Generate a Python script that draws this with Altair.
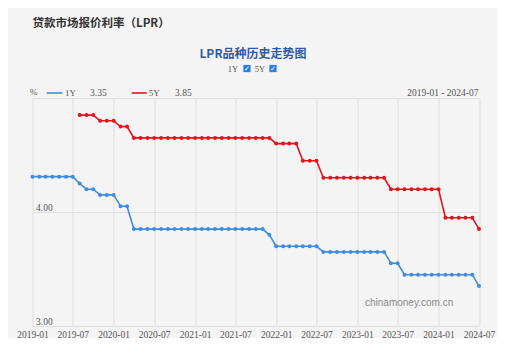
import altair as alt
import pandas as pd

# ---- data ----
months = pd.date_range("2019-01-01", "2024-07-01", freq="MS")

lpr_1y = [4.31, 4.31, 4.31, 4.31, 4.31, 4.31, 4.31,          # 2019-01..07
          4.25, 4.20, 4.20, 4.15, 4.15,                      # 2019-08..12
          4.15, 4.05, 4.05,                                  # 2020-01..03
          3.85, 3.85, 3.85, 3.85, 3.85, 3.85, 3.85, 3.85, 3.85,  # 2020-04..12
          3.85, 3.85, 3.85, 3.85, 3.85, 3.85, 3.85, 3.85, 3.85, 3.85, 3.85,  # 2021-01..11
          3.80,                                              # 2021-12
          3.70, 3.70, 3.70, 3.70, 3.70, 3.70, 3.70,          # 2022-01..07
          3.65, 3.65, 3.65, 3.65, 3.65,                      # 2022-08..12
          3.65, 3.65, 3.65, 3.65, 3.65,                      # 2023-01..05
          3.55, 3.55,                                        # 2023-06..07
          3.45, 3.45, 3.45, 3.45, 3.45,                      # 2023-08..12
          3.45, 3.45, 3.45, 3.45, 3.45, 3.45,                # 2024-01..06
          3.35]                                              # 2024-07

lpr_5y = [None, None, None, None, None, None, None,          # 2019-01..07
          4.85, 4.85, 4.85, 4.80, 4.80,                      # 2019-08..12
          4.80, 4.75, 4.75,                                  # 2020-01..03
          4.65, 4.65, 4.65, 4.65, 4.65, 4.65, 4.65, 4.65, 4.65,  # 2020-04..12
          4.65, 4.65, 4.65, 4.65, 4.65, 4.65, 4.65, 4.65, 4.65, 4.65, 4.65, 4.65,  # 2021
          4.60, 4.60, 4.60, 4.60, 4.45, 4.45, 4.45,          # 2022-01..07
          4.30, 4.30, 4.30, 4.30, 4.30,                      # 2022-08..12
          4.30, 4.30, 4.30, 4.30, 4.30,                      # 2023-01..05
          4.20, 4.20, 4.20, 4.20, 4.20, 4.20, 4.20,          # 2023-06..12
          4.20, 3.95, 3.95, 3.95, 3.95, 3.95,                # 2024-01..06
          3.85]                                              # 2024-07

series_names = ["1Y", "5Y"]
series_colors = ["#3d8de0", "#e8121b"]
y_ticks = [3, 4, 5]
x_ticks = [(y, m) for y in range(2019, 2025) for m in (1, 7)]

main_title = "贷款市场报价利率（LPR）"
sub_title = "LPR品种历史走势图"
range_text = "2019-01 - 2024-07"
watermark = "chinamoney.com.cn"

rows = []
for d, a, b in zip(months, lpr_1y, lpr_5y):
    rows.append({"date": d, "series": "1Y", "value": a})
    if b is not None:
        rows.append({"date": d, "series": "5Y", "value": b})
df = pd.DataFrame(rows)

NUM_FONT = "Liberation Serif"
CJK_FONT = "Noto Sans CJK SC"
GRID = "#dedede"

lines = alt.Chart(df).mark_line(
    strokeWidth=1.6,
    point=alt.OverlayMarkDef(filled=True, size=16),
).encode(
    x=alt.X("date:T",
            scale=alt.Scale(domain=[alt.DateTime(year=2019, month=1, date=1),
                                    alt.DateTime(year=2024, month=7, date=1)], nice=False),
            axis=alt.Axis(title=None, format="%Y-%m", grid=True, gridColor=GRID,
                          ticks=False, domain=False, labelPadding=3,
                          values=[alt.DateTime(year=y, month=m, date=1) for y, m in x_ticks],
                          labelFont=NUM_FONT, labelFontSize=9.5, labelColor="#555",
                          labelFlush=False, labelOverlap=False)),
    y=alt.Y("value:Q",
            scale=alt.Scale(domain=[3, 5], nice=False, zero=False),
            axis=alt.Axis(title=None, values=y_ticks, grid=True, gridColor=GRID,
                          ticks=False, tickSize=0, domain=False,
                          labelAlign="left", labelBaseline="bottom", labelPadding=-3,
                          labelExpr="datum.value == 5 ? '' : format(datum.value, '.2f')",
                          labelFont=NUM_FONT, labelFontSize=9.5, labelColor="#555")),
    color=alt.Color("series:N", scale=alt.Scale(domain=series_names, range=series_colors),
                    legend=None),
)


def txt(s, x, y, size=9, color="#555", font=NUM_FONT, weight="normal", align="left"):
    return alt.Chart(pd.DataFrame({"t": [s]})).mark_text(
        fontSize=size, color=color, font=font, fontWeight=weight, align=align,
        baseline="middle").encode(text="t:N", x=alt.value(x), y=alt.value(y))


def swatch(x1, x2, y, color):
    return alt.Chart(pd.DataFrame({"t": [0]})).mark_rule(
        color=color, strokeWidth=1.6).encode(x=alt.value(x1), x2=alt.value(x2), y=alt.value(y))


def checkbox(x, y):
    box = alt.Chart(pd.DataFrame({"t": [0]})).mark_point(
        shape="square", filled=True, size=52, color="#2a7ee2", opacity=1).encode(
        x=alt.value(x), y=alt.value(y))
    tick = alt.Chart(pd.DataFrame({"t": ["✓"]})).mark_text(
        fontSize=7, color="white", font="DejaVu Sans", fontWeight="bold",
        baseline="middle", align="center").encode(text="t:N", x=alt.value(x), y=alt.value(y + 0.5))
    return box + tick


header = [
    txt(main_title, 0, -74, size=11.5, color="#333", font=CJK_FONT, weight="bold"),
    txt(sub_title, 220.5, -44, size=12, color="#2f5aa8", font=CJK_FONT, weight="bold",
        align="center"),
    txt(series_names[0], 200.5, -29, size=8.5, align="center"),
    checkbox(214.5, -29.5),
    txt(series_names[1], 227.5, -29, size=8.5, align="center"),
    checkbox(240.5, -29.5),
    txt("%", -2.5, -6, size=9),
    swatch(14.2, 29.8, -5, series_colors[0]),
    txt(series_names[0], 32.5, -5, size=9),
    txt(f"{lpr_1y[-1]:.2f}", 57.5, -5, size=9.5),
    swatch(99.2, 114.2, -5, series_colors[1]),
    txt(series_names[1], 116.2, -5, size=9),
    txt(f"{lpr_5y[-1]:.2f}", 142.5, -5, size=9.5),
    txt(range_text, 446, -5, size=9.5, align="right"),
    txt(watermark, 332.5, 205, size=10, color="#8a8a8a", font="Liberation Sans"),
]

chart = alt.layer(lines, *header).properties(
    width=446.5, height=228,
    autosize=alt.AutoSizeParams(type="none"),
    padding={"left": 24.5, "top": 90, "right": 18, "bottom": 12},
    background="#f4f4f4",
).configure_view(stroke=None)

chart.save("out.html", embed_options={"renderer": "svg", "actions": False})
